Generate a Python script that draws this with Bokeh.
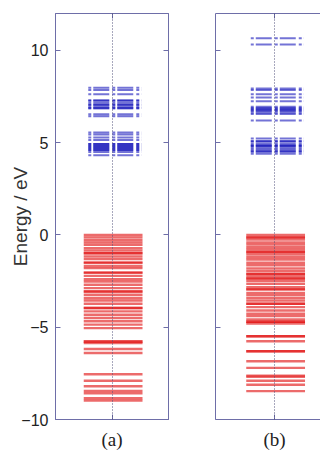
from bokeh.plotting import figure
from bokeh.layouts import row
from bokeh.models import FixedTicker, LinearAxis, Range1d
from bokeh.embed import file_html
from bokeh.resources import INLINE

# ---------------- data (energy levels, eV) ----------------
cond_a = [7.97, 7.86, 7.62, 7.28, 7.28, 7.16, 7.05, 7.05, 6.95, 6.86, 6.86, 6.54, 6.43,
          5.55, 5.44, 5.28, 5.14, 4.93, 4.93, 4.82, 4.82, 4.71, 4.71, 4.60, 4.60, 4.49, 4.32]
val_a = [0.0, -0.13, -0.27, -0.41, -0.54, -0.72, -0.85, -0.99, -0.99, -1.17, -1.31, -1.50,
         -1.50, -1.68, -1.80, -2.04, -2.04, -2.22, -2.40, -2.52, -2.70, -2.88, -3.06, -3.06,
         -3.24, -3.42, -3.55, -3.73, -3.96, -3.96, -4.14, -4.32, -4.50, -4.68, -4.86, -5.05,
         -5.77, -5.77, -5.86, -6.18, -6.40, -7.55, -7.90, -8.20, -8.45, -8.58, -8.85, -8.97]
cond_b = [10.66, 10.32, 7.93, 7.86, 7.62, 7.45, 7.25, 6.95, 6.88, 6.80, 6.80, 6.72, 6.64,
          6.56, 6.20, 5.22, 5.08, 5.08, 4.95, 4.88, 4.80, 4.80, 4.70, 4.62, 4.52, 4.52, 4.40]
val_b = [0.0, -0.13, -0.13, -0.25, -0.40, -0.52, -0.67, -0.79, -0.92, -0.92, -1.06, -1.21,
         -1.33, -1.51, -1.64, -1.82, -1.96, -2.11, -2.11, -2.23, -2.36, -2.36, -2.50, -2.65,
         -2.83, -2.95, -2.95, -3.14, -3.26, -3.41, -3.55, -3.73, -3.73, -3.91, -4.09, -4.27,
         -4.40, -4.58, -4.70, -4.70, -4.80, -5.49, -5.49, -5.76, -6.30, -6.30, -6.84, -7.20,
         -7.62, -7.68, -7.90, -8.12, -8.46]
y_ticks = [-10, -5, 0, 5, 10]
x_ticks = [0]
panel_labels = ["(a)", "(b)"]
y_label = "Energy / eV"

AXIS = "#6e6ea8"
BLUE = "#0000b4"
RED = "#e01010"
TOTAL_H = 452


def style_axis(ax):
    ax.axis_line_color = AXIS
    ax.major_tick_line_color = AXIS
    ax.minor_tick_line_color = AXIS
    ax.major_tick_in = 5
    ax.major_tick_out = 0
    ax.minor_tick_in = 5
    ax.minor_tick_out = 0


def bare_axis(ticks):
    # ticks only (as minor ticks), no labels
    ax = LinearAxis(ticker=FixedTicker(ticks=[], minor_ticks=ticks))
    style_axis(ax)
    ax.major_label_standoff = 0
    return ax


def make_panel(width, x_range, left, right, levels_c, levels_v, label, first):
    p = figure(width=width, height=TOTAL_H, x_range=x_range, y_range=Range1d(-10, 12),
               output_backend="svg", toolbar_location=None,
               min_border_left=left, min_border_right=right,
               min_border_top=13, min_border_bottom=32)
    p.background_fill_color = "white"
    p.border_fill_color = "white"
    p.outline_line_color = AXIS if first else None

    # grid: dotted vertical line at x = 0 only
    p.ygrid.visible = False
    p.xgrid.ticker = FixedTicker(ticks=x_ticks)
    p.xgrid.grid_line_color = "#50507a"
    p.xgrid.grid_line_dash = "1 2"
    p.xgrid.grid_line_width = 1
    p.xgrid.level = "overlay"

    # valence (red) levels
    p.segment(x0=-0.50, x1=0.54, y0=levels_v, y1=levels_v,
              line_color=RED, line_alpha=0.62, line_width=2.4)
    # conduction (blue) levels, dash-dot
    p.segment(x0=-0.42, x1=0.52, y0=levels_c, y1=levels_c,
              line_color=BLUE, line_alpha=0.55, line_width=2.0, line_dash="3 2 16 3")

    # left axis
    if first:
        la = p.yaxis[0]
        la.ticker = FixedTicker(ticks=y_ticks)
        style_axis(la)
        la.major_label_text_font = "Liberation Sans"
        la.major_label_text_font_size = "16px"
        la.major_label_text_color = "#222222"
        la.major_label_standoff = 7
        la.axis_label = y_label
        la.axis_label_text_font = "Liberation Sans"
        la.axis_label_text_font_size = "19px"
        la.axis_label_text_font_style = "normal"
        la.axis_label_text_color = "#333333"
        la.axis_label_standoff = -13
    else:
        p.yaxis.visible = False
        p.add_layout(bare_axis(y_ticks), "left")

    # bottom axis: tick at 0 carrying the panel label
    ba = p.xaxis[0]
    ba.ticker = FixedTicker(ticks=x_ticks)
    style_axis(ba)
    ba.major_label_overrides = {0: label}
    ba.major_label_text_font = "Liberation Serif"
    ba.major_label_text_font_size = "19px"
    ba.major_label_text_color = "#222222"
    ba.major_label_standoff = 9

    # top axis
    p.add_layout(bare_axis(x_ticks), "above")

    if first:
        p.add_layout(bare_axis(y_ticks), "right")
    return p


pa = make_panel(190, Range1d(-1, 1), 55, 22, cond_a, val_a, panel_labels[0], True)
pb = make_panel(130, Range1d(-1.044, 0.814), 25, 0, cond_b, val_b, panel_labels[1], False)

layout = row(pa, pb)
open("out.html", "w").write(file_html(layout, INLINE))
